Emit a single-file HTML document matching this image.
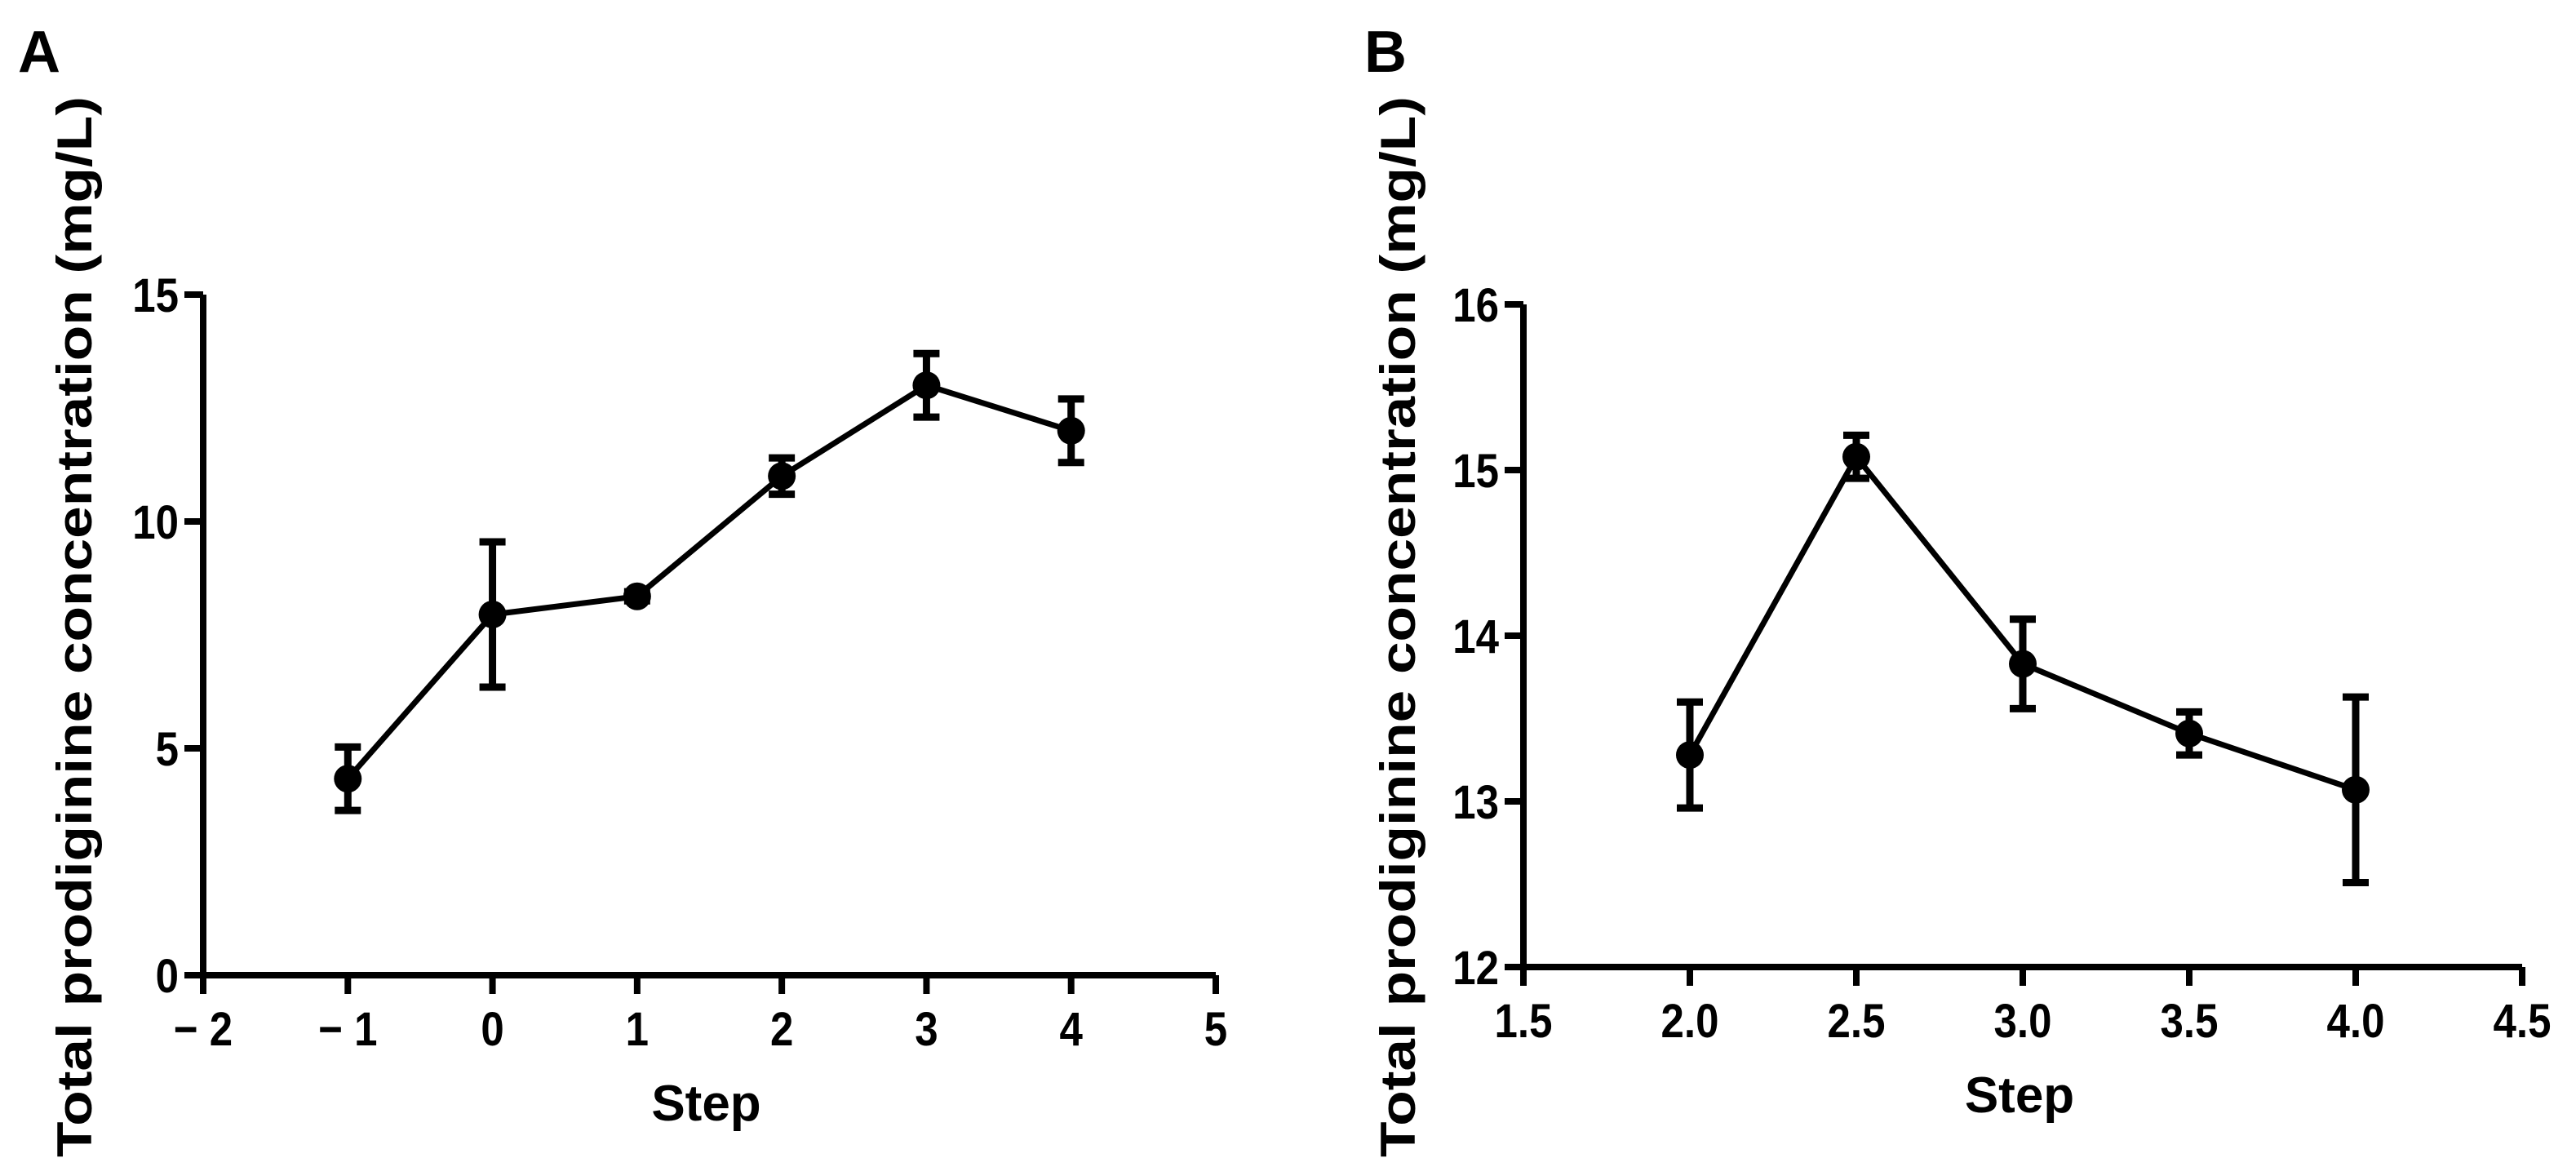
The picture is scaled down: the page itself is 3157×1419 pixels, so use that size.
<!DOCTYPE html>
<html><head><meta charset="utf-8"><style>
html,body{margin:0;padding:0;background:#fff;}
svg{display:block;font-family:"Liberation Sans",Arial,sans-serif;font-weight:bold;}
</style></head><body>
<svg id="c" width="3157" height="1419" viewBox="0 0 3157 1419" xmlns="http://www.w3.org/2000/svg"></svg>
<script>
// Panel A data
const aX = [-1, 0, 1, 2, 3, 4];
const aY = [4.33, 7.95, 8.35, 11.0, 13.0, 12.0];
const aErr = [0.7, 1.6, 0.1, 0.4, 0.7, 0.7];
const aXTicks = [-2, -1, 0, 1, 2, 3, 4, 5];
const aXTickLabels = ["\u2212 2", "\u2212 1", "0", "1", "2", "3", "4", "5"];
const aYTicks = [0, 5, 10, 15];
// Panel B data
const bX = [2.0, 2.5, 3.0, 3.5, 4.0];
const bY = [13.28, 15.08, 13.83, 13.41, 13.07];
const bErr = [0.32, 0.13, 0.27, 0.13, 0.56];
const bXTicks = [1.5, 2.0, 2.5, 3.0, 3.5, 4.0, 4.5];
const bXTickLabels = ["1.5", "2.0", "2.5", "3.0", "3.5", "4.0", "4.5"];
const bYTicks = [12, 13, 14, 15, 16];

const NS = "http://www.w3.org/2000/svg";
const svg = document.getElementById('c');
function mk(tag, attrs, parent) {
  const e = document.createElementNS(NS, tag);
  for (const k in attrs) e.setAttribute(k, attrs[k]);
  (parent || svg).appendChild(e);
  return e;
}
function panel(cfg) {
  const g = mk('g', {});
  
  
  const sx = v => cfg.x0 + (v - cfg.xmin) / (cfg.xmax - cfg.xmin) * (cfg.x1 - cfg.x0);
  const sy = v => cfg.y0 + (v - cfg.ymin) / (cfg.ymax - cfg.ymin) * (cfg.y1 - cfg.y0);
  const ax = mk('path', {d: `M${cfg.x0} ${cfg.y1}V${cfg.y0}H${cfg.x1}`, fill: 'none', stroke: '#000', 'stroke-width': 8, 'stroke-linejoin': 'miter'}, g);
  
  
  cfg.yTicks.forEach(t => {
    const y = sy(t);
    const tk = mk('line', {x1: cfg.x0 - 23, x2: cfg.x0, y1: y, y2: y, stroke: '#000', 'stroke-width': 8}, g);
    
    
    const tl = mk('text', {x: 0, y: 0, 'text-anchor': 'end', 'font-size': 58, transform: `translate(${cfg.x0 - 30},${y + 21}) scale(0.88,1)`}, g);
    
    
    tl.textContent = String(t);
  });
  cfg.xTicks.forEach((t, i) => {
    const x = sx(t);
    const tk = mk('line', {x1: x, x2: x, y1: cfg.y0, y2: cfg.y0 + 23, stroke: '#000', 'stroke-width': 8}, g);
    
    
    const tl = mk('text', {x: 0, y: 0, 'text-anchor': 'middle', 'font-size': 58, transform: `translate(${x},${cfg.y0 + 86}) scale(0.88,1)`}, g);
    
    
    tl.textContent = cfg.xLabels[i];
  });
  const pts = cfg.xs.map((v, i) => `${sx(v)},${sy(cfg.ys[i])}`).join(' ');
  const pl = mk('polyline', {points: pts, fill: 'none', stroke: '#000', 'stroke-width': 7}, g);
  
  
  cfg.xs.forEach((v, i) => {
    const x = sx(v), yt = sy(cfg.ys[i] + cfg.err[i]), yb = sy(cfg.ys[i] - cfg.err[i]);
    const eb = mk('path', {d: `M${x} ${yt}V${yb}M${x - 16} ${yt}H${x + 16}M${x - 16} ${yb}H${x + 16}`, stroke: '#000', 'stroke-width': 9, fill: 'none'}, g);
    
    
    const c = mk('circle', {cx: x, cy: sy(cfg.ys[i]), r: 17, fill: '#000'}, g);
    
    
  });
  const xt = mk('text', {x: (cfg.x0 + cfg.x1) / 2 - 4, y: cfg.y0 + 178, 'text-anchor': 'middle', 'font-size': 62}, g);
  
  
  xt.textContent = 'Step';
  const yt = mk('text', {x: 0, y: 0, 'text-anchor': 'middle', 'font-size': 60, textLength: 1300, lengthAdjust: 'spacingAndGlyphs', transform: `translate(${cfg.ytx},${cfg.yty}) rotate(-90)`}, g);
  
  
  yt.textContent = 'Total prodiginine concentration (mg/L)';
  const pl2 = mk('text', {x: cfg.lx, y: 88, 'font-size': 72}, g);
  
  
  pl2.textContent = cfg.label;
}
panel({name: 'panel-a', label: 'A', lx: 22, x0: 249, x1: 1490, xmin: -2, xmax: 5, y0: 1195, y1: 361, ymin: 0, ymax: 15,
  xs: aX, ys: aY, err: aErr, xTicks: aXTicks, xLabels: aXTickLabels, yTicks: aYTicks, ytx: 112, yty: 768});
panel({name: 'panel-b', label: 'B', lx: 1672, x0: 1867, x1: 3091, xmin: 1.5, xmax: 4.5, y0: 1185, y1: 373, ymin: 12, ymax: 16,
  xs: bX, ys: bY, err: bErr, xTicks: bXTicks, xLabels: bXTickLabels, yTicks: bYTicks, ytx: 1734, yty: 768});
</script>
</body></html>
